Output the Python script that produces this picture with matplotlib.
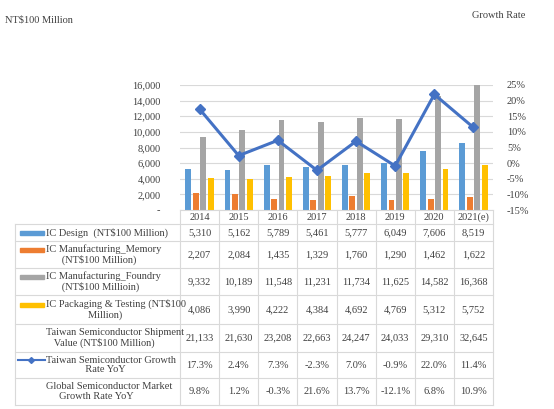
import matplotlib
matplotlib.use("Agg")
import matplotlib.pyplot as plt
import numpy as np

years = ["2014", "2015", "2016", "2017", "2018", "2019", "2020", "2021(e)"]
ic_design = [5310, 5162, 5789, 5461, 5777, 6049, 7606, 8519]
ic_memory = [2207, 2084, 1435, 1329, 1760, 1290, 1462, 1622]
ic_foundry = [9332, 10189, 11548, 11231, 11734, 11625, 14582, 16368]
ic_packaging = [4086, 3990, 4222, 4384, 4692, 4769, 5312, 5752]
shipment = [21133, 21630, 23208, 22663, 24247, 24033, 29310, 32645]
tw_growth = [17.3, 2.4, 7.3, -2.3, 7.0, -0.9, 22.0, 11.4]
global_growth = [9.8, 1.2, -0.3, 21.6, 13.7, -12.1, 6.8, 10.9]

bar_series = [
    ("IC Design  (NT$100 Million)", ic_design, "#5b9bd5"),
    ("IC Manufacturing_Memory\n      (NT$100 Million)", ic_memory, "#ed7d31"),
    ("IC Manufacturing_Foundry\n      (NT$100 Millioin)", ic_foundry, "#a5a5a5"),
    ("IC Packaging & Testing (NT$100\n                Million)", ic_packaging, "#ffc000"),
]
line_color = "#4472c4"

plt.rcParams["font.family"] = ["Liberation Serif", "DejaVu Serif"]
W, H = 554, 409
fig = plt.figure(figsize=(W / 100, H / 100), dpi=100)

px_l, px_r, px_t, px_b = 180, 493, 85, 210
ax = fig.add_axes([px_l / W, 1 - px_b / H, (px_r - px_l) / W, (px_b - px_t) / H])
x = np.arange(len(years))
for k, (lab, vals, col) in enumerate(bar_series):
    ax.bar(x + (k - 1.5) * 0.19, vals, 0.15, color=col, zorder=2)
ax.set_xlim(-0.5, len(years) - 0.5)
ax.set_ylim(0, 16000)
ax.set_yticks(range(0, 16001, 2000))
ax.set_yticklabels(["-"] + [f"{v:,}" for v in range(2000, 16001, 2000)])
ax.set_xticks([])
ax.yaxis.grid(True, color="#d9d9d9", linewidth=0.8, zorder=0)
for s in ax.spines.values():
    s.set_visible(False)
ax.tick_params(axis="y", length=0, labelsize=7.5, colors="#404040", pad=14)

ax2 = ax.twinx()
ax2.plot(x, tw_growth, "-D", color=line_color, linewidth=2.2, markersize=5, zorder=3)
ax2.set_ylim(-15, 25)
ax2.set_yticks(range(-15, 26, 5))
ax2.set_yticklabels([f"{v}%" for v in range(-15, 26, 5)])
for s in ax2.spines.values():
    s.set_visible(False)
ax2.tick_params(axis="y", length=0, labelsize=7.5, colors="#404040", pad=10)

fig.text(5 / W, 1 - 20 / H, "NT$100 Million", fontsize=7.5, color="#404040", va="center")
fig.text(525 / W, 1 - 15 / H, "Growth Rate", fontsize=7.5, color="#404040", va="center", ha="right")

# data table
ov = fig.add_axes([0, 0, 1, 1], facecolor="none")
ov.set_xlim(0, W)
ov.set_ylim(H, 0)
ov.axis("off")
grid_c = "#d9d9d9"
col_w = (px_r - px_l) / len(years)
row_edges = [210, 224, 241, 268, 295, 324, 352, 378, 405]
tbl_l = 15

rows = [(lab, [f"{v:,}" for v in vals], col) for lab, vals, col in bar_series]
rows.append(("Taiwan Semiconductor Shipment\n   Value (NT$100 Million)", [f"{v:,}" for v in shipment], None))
rows.append(("Taiwan Semiconductor Growth\n               Rate YoY", [f"{v:.1f}%" for v in tw_growth], "line"))
rows.append(("Global Semiconductor Market\n     Growth Rate YoY", [f"{v:.1f}%" for v in global_growth], None))

for i, yr in enumerate(years):
    ov.text(px_l + (i + 0.5) * col_w, (row_edges[0] + row_edges[1]) / 2, yr,
            ha="center", va="center", fontsize=7.5, color="#404040")
ov.plot([px_l, px_r], [row_edges[0]] * 2, color=grid_c, lw=0.8)
for i in range(len(years) + 1):
    ov.plot([px_l + i * col_w] * 2, [row_edges[0], row_edges[-1]], color=grid_c, lw=0.8)
ov.plot([tbl_l] * 2, [row_edges[1], row_edges[-1]], color=grid_c, lw=0.8)
for e in row_edges[1:]:
    ov.plot([tbl_l, px_r], [e, e], color=grid_c, lw=0.8)

for r, (lab, vals, key) in enumerate(rows):
    yc = (row_edges[r + 1] + row_edges[r + 2]) / 2
    two = "\n" in lab
    if key == "line":
        ov.plot([18, 45], [yc - 5, yc - 5], color=line_color, lw=1.5)
        ov.plot([31], [yc - 5], "D", color=line_color, ms=3)
        ov.text(46, yc, lab, ha="left", va="center", fontsize=7.5, color="#404040", linespacing=1.1)
    elif key:
        ov.add_patch(plt.Rectangle((20, yc - 7 if two else yc - 2), 24, 4, color=key))
        ov.text(46, yc, lab, ha="left", va="center", fontsize=7.5, color="#404040", linespacing=1.1)
    else:
        ov.text(46, yc, lab, ha="left", va="center", fontsize=7.5, color="#404040", linespacing=1.1)
    for i, v in enumerate(vals):
        ov.text(px_l + (i + 0.5) * col_w, yc, v, ha="center", va="center", fontsize=7.5, color="#404040")

fig.savefig("out.png", dpi=100)
